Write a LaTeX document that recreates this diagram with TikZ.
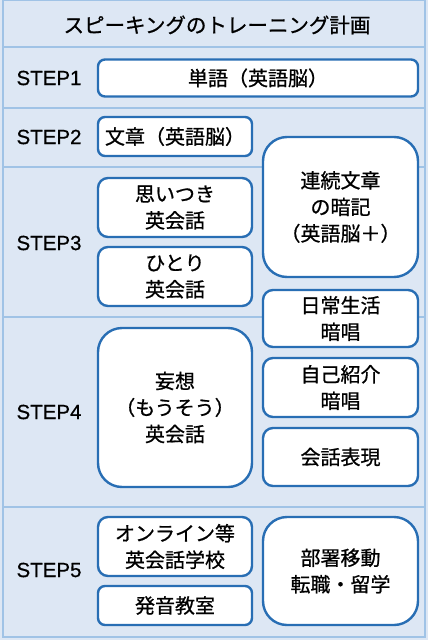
\documentclass[tikz,border=0pt]{standalone}
\usepackage{fontspec}
\setmainfont{Liberation Sans}[FakeBold=0.6]
\newfontfamily\jp{Noto Sans CJK JP}[FakeBold=0.8]
\definecolor{bgc}{RGB}{221,231,244}
\definecolor{sepc}{RGB}{160,195,230}
\definecolor{boxc}{RGB}{40,110,180}
\tikzset{
  boxn/.style={draw=boxc, line width=2.4pt, fill=white, inner sep=0pt, align=center,
    font=\jp\addfontfeature{FakeBold=0.8}\fontsize{20}{26.5}\selectfont},
  steplbl/.style={font=\addfontfeature{FakeBold=0.6}\fontsize{20.5}{24}\selectfont, inner sep=0pt},
  sepline/.style={draw=sepc, line width=2pt}
}
\begin{document}
\begin{tikzpicture}[x=1pt,y=1pt]
\fill[bgc] (0,0) rectangle (428,-640);
\useasboundingbox (0,0) rectangle (428,-640);
% separators
\coordinate (s0l) at (3,-47);  \coordinate (s0r) at (425,-47);
\coordinate (s1l) at (3,-108); \coordinate (s1r) at (425,-108);
\coordinate (s2l) at (3,-167); \coordinate (s2r) at (425,-167);
\coordinate (s3l) at (3,-317); \coordinate (s3r) at (425,-317);
\coordinate (s4l) at (3,-507); \coordinate (s4r) at (425,-507);
\foreach \i in {0,...,4}{\draw[sepline] (s\i l) -- (s\i r);}
\draw[sepline] (3,0) rectangle (425,-637);
% title
\node[font=\jp\addfontfeature{FakeBold=0.8}\fontsize{20.5}{24}\selectfont] (title) at (217,-25) {スピーキングのトレーニング計画};
% step labels
\node[steplbl] (st1) at (49,-78) {STEP1};
\node[steplbl] (st2) at (49,-137) {STEP2};
\node[steplbl] (st3) at (49,-243) {STEP3};
\node[steplbl] (st4) at (49,-412) {STEP4};
\node[steplbl] (st5) at (49,-570) {STEP5};
% boxes
\node[boxn, rounded corners=7pt, minimum width=320pt, minimum height=37pt] (b1) at (258,-78) {単語（英語脳）};
\node[boxn, rounded corners=7pt, minimum width=154pt, minimum height=39pt] (b2) at (175,-136.5) {文章（英語脳）};
\node[boxn, rounded corners=24pt, minimum width=155pt, minimum height=140pt] (b3) at (340.5,-207) {連続文章\\の暗記\\（英語脳＋）};
\node[boxn, rounded corners=10pt, minimum width=154pt, minimum height=59pt] (b4) at (175,-207.5) {思いつき\\英会話};
\node[boxn, rounded corners=10pt, minimum width=154pt, minimum height=59pt] (b5) at (175,-276.5) {ひとり\\英会話};
\node[boxn, rounded corners=10pt, minimum width=155pt, minimum height=57pt] (b6) at (340.5,-318.5) {日常生活\\暗唱};
\node[boxn, rounded corners=24pt, minimum width=154pt, minimum height=159pt] (b7) at (175,-407.5) {妄想\\（もうそう）\\英会話};
\node[boxn, rounded corners=10pt, minimum width=155pt, minimum height=59pt] (b8) at (340.5,-387.5) {自己紹介\\暗唱};
\node[boxn, rounded corners=10pt, minimum width=155pt, minimum height=58pt] (b9) at (340.5,-457) {会話表現};
\node[boxn, rounded corners=10pt, minimum width=154pt, minimum height=59pt] (b10) at (175,-546.5) {オンライン等\\英会話学校};
\node[boxn, rounded corners=7pt, minimum width=154pt, minimum height=39pt] (b11) at (175,-605.5) {発音教室};
\node[boxn, rounded corners=24pt, minimum width=155pt, minimum height=108pt] (b12) at (340.5,-571) {部署移動\\転職・留学};
\end{tikzpicture}
\end{document}
